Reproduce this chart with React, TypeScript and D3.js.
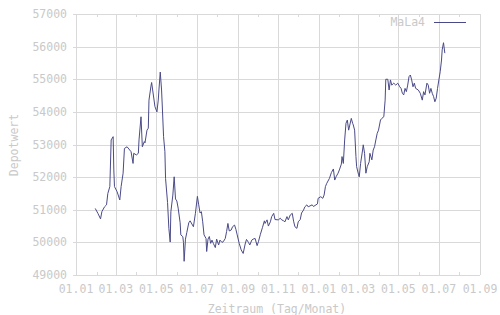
import React from "react";
import * as d3 from "d3";

const dates: string[] = [
  "2008-01-30","2008-02-03","2008-02-07","2008-02-09","2008-02-13","2008-02-16","2008-02-18","2008-02-21","2008-02-23","2008-02-26",
  "2008-02-27","2008-02-28","2008-03-03","2008-03-07","2008-03-09","2008-03-12","2008-03-14","2008-03-18","2008-03-22","2008-03-24",
  "2008-03-27","2008-03-28","2008-04-01","2008-04-04","2008-04-05","2008-04-08","2008-04-10","2008-04-13","2008-04-14","2008-04-17",
  "2008-04-19","2008-04-20","2008-04-23","2008-04-24","2008-04-29","2008-05-02","2008-05-04","2008-05-05","2008-05-07","2008-05-09",
  "2008-05-10","2008-05-12","2008-05-14","2008-05-15","2008-05-18","2008-05-20","2008-05-22","2008-05-23","2008-05-26","2008-05-28",
  "2008-05-30","2008-06-01","2008-06-03","2008-06-06","2008-06-07","2008-06-10","2008-06-11","2008-06-12","2008-06-14","2008-06-16",
  "2008-06-19","2008-06-21","2008-06-26","2008-06-29","2008-07-02","2008-07-04","2008-07-06","2008-07-08","2008-07-10","2008-07-12",
  "2008-07-15","2008-07-16","2008-07-18","2008-07-20","2008-07-22","2008-07-24","2008-07-26","2008-07-29","2008-07-31","2008-08-03",
  "2008-08-05","2008-08-08","2008-08-10","2008-08-13","2008-08-15","2008-08-17","2008-08-19","2008-08-22","2008-08-24","2008-08-27",
  "2008-08-29","2008-08-31","2008-09-03","2008-09-06","2008-09-09","2008-09-12","2008-09-14","2008-09-17","2008-09-19","2008-09-22",
  "2008-09-24","2008-09-27","2008-09-30","2008-10-02","2008-10-05","2008-10-08","2008-10-11","2008-10-12","2008-10-15","2008-10-17",
  "2008-10-20","2008-10-22","2008-10-25","2008-10-27","2008-11-01","2008-11-04","2008-11-06","2008-11-09","2008-11-11","2008-11-14",
  "2008-11-16","2008-11-19","2008-11-22","2008-11-24","2008-11-26","2008-11-29","2008-12-01","2008-12-04","2008-12-06","2008-12-09",
  "2008-12-11","2008-12-14","2008-12-16","2008-12-22","2008-12-24","2008-12-30","2008-12-31","2009-01-04","2009-01-07","2009-01-09",
  "2009-01-11","2009-01-13","2009-01-17","2009-01-20","2009-01-23","2009-01-25","2009-01-27","2009-01-30","2009-02-01","2009-02-04",
  "2009-02-05","2009-02-07","2009-02-09","2009-02-11","2009-02-13","2009-02-15","2009-02-19","2009-02-21","2009-02-22","2009-02-24",
  "2009-02-26","2009-02-27","2009-03-02","2009-03-03","2009-03-05","2009-03-08","2009-03-09","2009-03-11","2009-03-13","2009-03-15",
  "2009-03-18","2009-03-19","2009-03-22","2009-03-24","2009-03-26","2009-03-28","2009-03-30","2009-04-01","2009-04-04","2009-04-06",
  "2009-04-09","2009-04-11","2009-04-12","2009-04-15","2009-04-17","2009-04-19","2009-04-21","2009-04-24","2009-04-27","2009-04-30",
  "2009-05-03","2009-05-05","2009-05-07","2009-05-09","2009-05-11","2009-05-13","2009-05-15","2009-05-17","2009-05-19","2009-05-21",
  "2009-05-23","2009-05-25","2009-05-27","2009-05-31","2009-06-03","2009-06-06","2009-06-08","2009-06-10","2009-06-13","2009-06-15",
  "2009-06-17","2009-06-19","2009-06-21","2009-06-23","2009-06-25","2009-06-27","2009-06-29","2009-07-01","2009-07-03","2009-07-05",
  "2009-07-06","2009-07-08","2009-07-10",
];

const values: number[] = [
  51040,50890,50720,50940,51090,51150,51500,51710,53140,53240,
  52220,51710,51550,51300,51710,52120,52880,52930,52830,52780,
  52420,52730,52680,52730,53140,53850,52930,53090,53050,53440,
  53500,54360,54790,54900,54160,54000,54360,54670,55220,54670,
  54210,53240,52780,51960,51220,50430,50010,50940,51450,52010,
  51330,51270,51050,50600,50230,50175,50000,49420,50100,50300,
  50600,50660,50480,50890,51410,51150,50900,50940,50630,50230,
  50120,49720,50100,50180,49970,50070,49970,49840,50100,49920,
  50070,50000,50020,50120,50330,50580,50350,50380,50480,50530,
  50400,50230,49970,49770,49660,49950,50090,50000,49920,50070,
  50100,50120,49900,50020,50250,50450,50660,50580,50690,50500,
  50630,50790,50890,50700,50690,50740,50690,50660,50630,50790,
  50690,50840,50890,50650,50480,50430,50630,50700,50900,50990,
  51090,51150,51090,51150,51100,51180,51350,51400,51350,51450,
  51710,51810,51960,52140,52250,51910,52010,52120,52220,52400,
  52630,52420,53140,53650,53750,53440,53800,53650,53600,53440,
  52630,52320,52070,52010,52420,52830,52990,52730,52120,52320,
  52470,52730,52530,52830,52930,53140,53340,53440,53750,53800,
  53850,54360,55000,55000,54670,54980,54820,54880,54820,54880,
  54770,54720,54570,54520,54720,54620,54820,55080,55130,54980,
  54770,54880,54720,54670,54570,54360,54620,54520,54880,54820,
  54570,54720,54570,54470,54310,54420,54720,54980,55230,55590,
  55900,56120,55800,
];

const yTicks: number[] = [49000, 50000, 51000, 52000, 53000, 54000, 55000, 56000, 57000];
const xTickLabels: string[] = ["01.01","01.03","01.05","01.07","01.09","01.11","01.01","01.03","01.05","01.07","01.09"];
const seriesName = "MaLa4";
const xTitle = "Zeitraum (Tag/Monat)";
const yTitle = "Depotwert";

const W = 500, H = 315;
const L = 76, R = 480, T = 14, B = 275;
const TEXT = "#c9c9c9";
const GRID = "#d9d9d9";
const LINE = "#4a4a88";
const FONT = "'DejaVu Sans Mono', monospace";

export default function App() {
  const parse = d3.utcParse("%Y-%m-%d");
  const pts = dates.map((d, i) => ({ d: parse(d) as Date, v: values[i] }));
  const start = new Date(Date.UTC(2008, 0, 1));
  const end = new Date(Date.UTC(2009, 8, 1));
  const x = d3.scaleUtc().domain([start, end]).range([L, R]);
  const y = d3.scaleLinear().domain([49000, 57000]).range([B, T]);
  const majors = d3.utcMonth.every(2)!.range(start, d3.utcDay.offset(end, 1));
  const minors = d3.utcMonth.range(start, end).filter((_, i) => i % 2 === 1);
  const line = d3.line<{ d: Date; v: number }>().x(p => x(p.d)).y(p => y(p.v));

  return (
    <svg width={W} height={H} style={{ display: "block", position: "absolute", left: 0, top: 0, background: "#fff" }}>
      <rect x={0} y={0} width={W} height={H} fill="#fff" />
      {yTicks.map(t => (
        <line key={"gy" + t} x1={L - 3} x2={R} y1={Math.round(y(t)) + 0.5} y2={Math.round(y(t)) + 0.5} stroke={GRID} strokeWidth={1} />
      ))}
      {majors.map((m, i) => (
        <line key={"gx" + i} x1={Math.round(x(m)) + 0.5} x2={Math.round(x(m)) + 0.5} y1={T} y2={B} stroke={GRID} strokeWidth={1} />
      ))}
      {minors.map((m, i) => (
        <g key={"mn" + i}>
          <line x1={Math.round(x(m)) + 0.5} x2={Math.round(x(m)) + 0.5} y1={B} y2={B - 3} stroke={GRID} />
          <line x1={Math.round(x(m)) + 0.5} x2={Math.round(x(m)) + 0.5} y1={T} y2={T + 3} stroke={GRID} />
        </g>
      ))}
      {yTicks.map(t => (
        <text key={"ty" + t} x={67} y={y(t) + 4} textAnchor="end" fontFamily={FONT} fontSize={11.5} fill={TEXT}>
          {t}
        </text>
      ))}
      {majors.map((m, i) => (
        <text key={"tx" + i} x={x(m)} y={293} textAnchor="middle" fontFamily={FONT} fontSize={11.5} fill={TEXT}>
          {xTickLabels[i]}
        </text>
      ))}
      <path d={line(pts) || ""} fill="none" stroke={LINE} strokeWidth={1} />
      <text x={425} y={26} textAnchor="end" fontFamily={FONT} fontSize={11.5} fill={TEXT}>{seriesName}</text>
      <line x1={434} x2={466} y1={22.5} y2={22.5} stroke={LINE} strokeWidth={1} />
      <text x={277} y={313} textAnchor="middle" fontFamily={FONT} fontSize={11.5} fill={TEXT}>{xTitle}</text>
      <text transform="translate(18,145) rotate(-90)" textAnchor="middle" fontFamily={FONT} fontSize={11.5} fill={TEXT}>{yTitle}</text>
    </svg>
  );
}
